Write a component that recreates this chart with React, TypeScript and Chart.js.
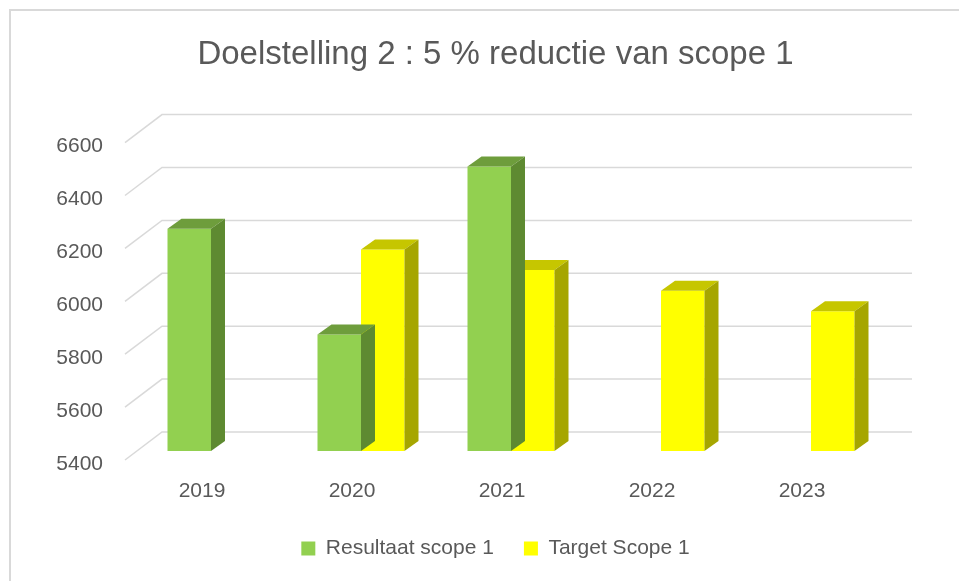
import { useEffect, useRef } from "react";
import { Chart, registerables } from "chart.js";

Chart.register(...registerables);

const TITLE = "Doelstelling 2 : 5 % reductie van scope 1";
const categories = ["2019", "2020", "2021", "2022", "2023"];
const seriesNames = ["Resultaat scope 1", "Target Scope 1"];
const resultaat: (number | null)[] = [6240, 5840, 6476, null, null];
const target: (number | null)[] = [null, 6162, 6084, 6006, 5928];
const yMin = 5400;
const yMax = 6600;
const yStep = 200;

const FONT = "'Liberation Sans', Arial, sans-serif";
const TEXT = "#595959";
const GRID = "#D9D9D9";

// 3D geometry (px offsets)
const BACK = { dx: 26, dy: -19 };
const FRONT = { dx: -11, dy: 9 };
const BAR = { dx: 14, dy: -10 };

const faceColors = [
  { top: "#6E9D3C", side: "#5E8A31" },
  { top: "#C6C600", side: "#A6A600" },
];

const threeD = {
  id: "threeD",
  beforeDraw(chart: any) {
    const { ctx, width, height } = chart;
    ctx.save();
    ctx.fillStyle = "#ffffff";
    ctx.fillRect(0, 0, width, height);
    ctx.strokeStyle = GRID;
    ctx.lineWidth = 2;
    ctx.beginPath();
    ctx.moveTo(10, height);
    ctx.lineTo(10, 10);
    ctx.lineTo(width, 10);
    ctx.stroke();
    ctx.restore();
  },
  beforeDatasetsDraw(chart: any) {
    const { ctx, chartArea } = chart;
    const ys = chart.scales.y;
    ctx.save();
    ctx.strokeStyle = GRID;
    ctx.lineWidth = 1.5;
    ys.ticks.forEach((t: any) => {
      const y = ys.getPixelForValue(t.value);
      ctx.beginPath();
      ctx.moveTo(chartArea.left + FRONT.dx, y + FRONT.dy);
      ctx.lineTo(chartArea.left + BACK.dx, y + BACK.dy);
      ctx.lineTo(chartArea.right + BACK.dx, y + BACK.dy);
      ctx.stroke();
    });
    ctx.restore();
  },
  afterDatasetDraw(chart: any, args: any) {
    const { ctx, chartArea } = chart;
    const idx = args.index;
    const meta = args.meta;
    const data = chart.data.datasets[idx].data;
    const c = faceColors[idx];
    ctx.save();
    meta.data.forEach((el: any, i: number) => {
      if (data[i] === null || data[i] === undefined) return;
      const p = el.getProps(["x", "y", "base", "width"], true);
      const { x, y, width } = p;
      if (!isFinite(y)) return;
      const base = Math.min(p.base, chartArea.bottom);
      const l = x - width / 2;
      const r = x + width / 2;
      // top
      ctx.fillStyle = c.top;
      ctx.beginPath();
      ctx.moveTo(l, y);
      ctx.lineTo(l + BAR.dx, y + BAR.dy);
      ctx.lineTo(r + BAR.dx, y + BAR.dy);
      ctx.lineTo(r, y);
      ctx.closePath();
      ctx.fill();
      // side
      ctx.fillStyle = c.side;
      ctx.beginPath();
      ctx.moveTo(r, y);
      ctx.lineTo(r + BAR.dx, y + BAR.dy);
      ctx.lineTo(r + BAR.dx, base + BAR.dy);
      ctx.lineTo(r, base);
      ctx.closePath();
      ctx.fill();
    });
    ctx.restore();
  },
};

export default function App() {
  const ref = useRef<HTMLCanvasElement | null>(null);

  useEffect(() => {
    if (!ref.current) return;
    const chart = new Chart(ref.current, {
      type: "bar",
      data: {
        labels: categories,
        datasets: [
          {
            label: seriesNames[0],
            data: resultaat,
            backgroundColor: "#92D050",
            borderWidth: 0,
            categoryPercentage: 0.58,
            barPercentage: 1,
          },
          {
            label: seriesNames[1],
            data: target,
            backgroundColor: "#FFFF00",
            borderWidth: 0,
            categoryPercentage: 0.58,
            barPercentage: 1,
          },
        ],
      },
      options: {
        animation: false,
        responsive: false,
        devicePixelRatio: 1,
        layout: { padding: { left: 32, right: 0, top: 0, bottom: 12 } },
        plugins: {
          title: {
            display: true,
            text: TITLE,
            color: TEXT,
            font: { family: FONT, size: 33, weight: "normal", lineHeight: 1.2 },
            padding: { top: 35, bottom: 59 },
          },
          legend: {
            position: "bottom",
            labels: {
              boxWidth: 14,
              boxHeight: 14,
              padding: 30,
              color: TEXT,
              font: { family: FONT, size: 21 },
            },
          },
          tooltip: { enabled: false },
        },
        scales: {
          x: {
            grid: { display: false, drawTicks: false },
            border: { display: false },
            ticks: {
              color: TEXT,
              font: { family: FONT, size: 21 },
              padding: 28,
              labelOffset: -9,
            },
            afterFit: (s: any) => {
              s.height = 57;
            },
          },
          y: {
            min: yMin,
            max: yMax,
            grid: { display: false, drawTicks: false },
            border: { display: false },
            ticks: {
              stepSize: yStep,
              color: TEXT,
              font: { family: FONT, size: 21 },
              padding: 33,
              labelOffset: 13,
              callback: (v: any) => String(v),
            },
            afterFit: (s: any) => {
              s.width = 104;
            },
          },
          yRight: {
            position: "right",
            display: true,
            min: yMin,
            max: yMax,
            grid: { display: false, drawTicks: false },
            border: { display: false },
            ticks: { display: false },
            afterFit: (s: any) => {
              s.width = 73;
            },
          },
        },
      },
      plugins: [threeD],
    } as any);
    return () => chart.destroy();
  }, []);

  return (
    <div style={{ position: "fixed", left: 0, top: 0, width: 959, height: 581, background: "#fff" }}>
      <canvas ref={ref} width={959} height={581} style={{ display: "block" }} />
    </div>
  );
}
